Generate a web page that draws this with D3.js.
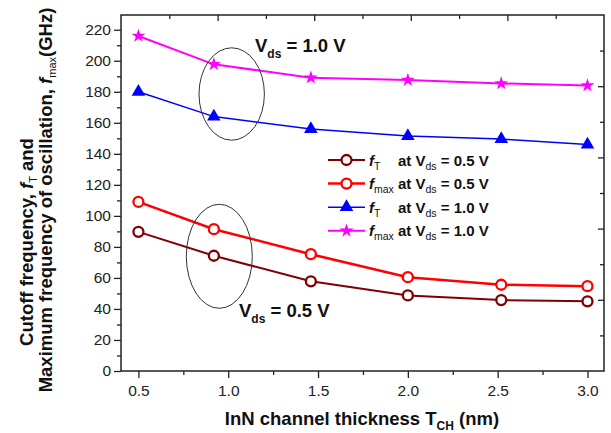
<!DOCTYPE html>
<html>
<head>
<meta charset="utf-8">
<script src="https://cdn.jsdelivr.net/npm/d3@7"></script>
<style>
  body { margin: 0; background: #fff; }
  text { font-family: "Liberation Sans", Arial, sans-serif; }
</style>
</head>
<body>
<script>
// data
const thickness = [0.5, 0.92, 1.46, 2.0, 2.52, 3.0];
const fT_05 = [89.7, 74.3, 57.8, 48.7, 45.7, 44.9];
const fmax_05 = [109.0, 91.4, 75.3, 60.5, 55.6, 54.7];
const fT_10 = [180.0, 164.0, 156.0, 151.5, 149.5, 146.0];
const fmax_10 = [216.0, 197.7, 189.1, 187.6, 185.4, 184.0];
const xTicks = [0.5, 1.0, 1.5, 2.0, 2.5, 3.0];
const xMinor = [0.75, 1.25, 1.75, 2.25, 2.75];
const yTicks = [0, 20, 40, 60, 80, 100, 120, 140, 160, 180, 200, 220];
const yMinor = [10, 30, 50, 70, 90, 110, 130, 150, 170, 190, 210];
const sideMajor = [1, 2, 3, 4];
const sideMinor = [0.5, 1.5, 2.5, 3.5, 4.5];

const series = [
  {name: "fT", sub: "T", vds: "0.5", values: fT_05, color: "#800000", sym: "circle", lw: 2},
  {name: "fmax", sub: "max", vds: "0.5", values: fmax_05, color: "#ff0000", sym: "circle", lw: 2.5},
  {name: "fT", sub: "T", vds: "1.0", values: fT_10, color: "#0000ff", sym: "triangle", lw: 1.5},
  {name: "fmax", sub: "max", vds: "1.0", values: fmax_10, color: "#ff00ff", sym: "star", lw: 2}
];

const W = 611, H = 433;
const L = 121, R = 604, T = 15, B = 371;

const svg = d3.select("body").append("svg")
  .attr("width", W).attr("height", H);

const x = d3.scaleLinear().domain([0.403, 3.092]).range([L, R]);
const y = d3.scaleLinear().domain([0, 229.5]).range([B, T]);
const xTop = d3.scaleLinear().domain([0, 5]).range([L, R]);
const yRight = d3.scaleLinear().domain([0, 5]).range([B, T]);

// axes
const axisColor = "#222";
function styleAxis(g) {
  g.select(".domain").remove();
  g.selectAll("line").attr("stroke", axisColor).attr("stroke-width", 1.3);
  g.selectAll("text").attr("fill", "#222").style("font-size", "15.5px");
}

svg.append("g").attr("transform", `translate(0,${B})`)
  .call(d3.axisBottom(x).tickValues(xTicks).tickSize(7).tickPadding(7).tickFormat(d3.format(".1f")))
  .call(styleAxis);
svg.append("g").attr("transform", `translate(0,${B})`)
  .call(d3.axisBottom(x).tickValues(xMinor).tickSize(4).tickFormat(""))
  .call(styleAxis);
svg.append("g").attr("transform", `translate(${L},0)`)
  .call(d3.axisLeft(y).tickValues(yTicks).tickSize(7).tickPadding(3))
  .call(styleAxis);
svg.append("g").attr("transform", `translate(${L},0)`)
  .call(d3.axisLeft(y).tickValues(yMinor).tickSize(4).tickFormat(""))
  .call(styleAxis);
svg.append("g").attr("transform", `translate(0,${T})`)
  .call(d3.axisTop(xTop).tickValues(sideMajor).tickSize(-6).tickFormat(""))
  .call(styleAxis);
svg.append("g").attr("transform", `translate(0,${T})`)
  .call(d3.axisTop(xTop).tickValues(sideMinor).tickSize(-4).tickFormat(""))
  .call(styleAxis);
svg.append("g").attr("transform", `translate(${R},0)`)
  .call(d3.axisRight(yRight).tickValues(sideMajor).tickSize(-6).tickFormat(""))
  .call(styleAxis);
svg.append("g").attr("transform", `translate(${R},0)`)
  .call(d3.axisRight(yRight).tickValues(sideMinor).tickSize(-4).tickFormat(""))
  .call(styleAxis);

svg.append("rect")
  .attr("x", L).attr("y", T).attr("width", R - L).attr("height", B - T)
  .attr("fill", "none").attr("stroke", axisColor).attr("stroke-width", 1.5);

// markers
const symSize = {circle: 0, triangle: 80, star: 60};
function drawMarker(g, s) {
  if (s.sym == "circle") {
    g.append("circle").attr("r", 5)
      .attr("fill", "#fff").attr("stroke", s.color).attr("stroke-width", 2.3);
  } else {
    let type = s.sym == "star" ? d3.symbolStar : d3.symbolTriangle;
    g.append("path").attr("d", d3.symbol().type(type).size(symSize[s.sym])())
      .attr("fill", s.color);
  }
}

const line = d3.line().x(d => x(d[0])).y(d => y(d[1]));

series.forEach(function(s) {
  let pts = thickness.map((t, i) => [t, s.values[i]]);
  svg.append("path").datum(pts)
    .attr("d", line)
    .attr("fill", "none")
    .attr("stroke", s.color)
    .attr("stroke-width", s.lw);
  pts.forEach(function(p) {
    let g = svg.append("g").attr("transform", `translate(${x(p[0])},${y(p[1])})`);
    drawMarker(g, s);
  });
});

// ellipses
svg.append("ellipse").attr("cx", 231.7).attr("cy", 94).attr("rx", 32.7).attr("ry", 46.2)
  .attr("fill", "none").attr("stroke", "#333").attr("stroke-width", 1);
svg.append("ellipse").attr("cx", 219.3).attr("cy", 256.3).attr("rx", 33).attr("ry", 52)
  .attr("fill", "none").attr("stroke", "#333").attr("stroke-width", 1);

// Vds labels
function vdsLabel(px, py, v) {
  let t = svg.append("text").attr("x", px).attr("y", py)
    .style("font-size", "18.5px").style("font-weight", "bold").attr("fill", "#111");
  t.append("tspan").text("V");
  t.append("tspan").attr("dy", 6).style("font-size", "12px").text("ds");
  t.append("tspan").attr("dy", -6).text(" = " + v + " V");
}
vdsLabel(255, 52, "1.0");
vdsLabel(239, 317, "0.5");

// legend
const legend = svg.append("g");
series.forEach(function(s, i) {
  let ly = 160 + i * 23.6;
  let g = legend.append("g").attr("transform", `translate(0,${ly})`);
  g.append("line").attr("x1", 328).attr("x2", 365).attr("y1", 0).attr("y2", 0)
    .attr("stroke", s.color).attr("stroke-width", s.lw);
  let m = g.append("g").attr("transform", "translate(346.5,0)");
  drawMarker(m, s);
  let t = g.append("text").attr("x", 369).attr("y", 5.5)
    .style("font-size", "15px").style("font-weight", "bold").attr("fill", "#111");
  t.append("tspan").style("font-style", "italic").text("f");
  t.append("tspan").attr("dy", 4).style("font-size", "10.5px").style("font-weight", "normal").text(s.sub);
  let at = g.append("text").attr("x", 398).attr("y", 5.5)
    .style("font-size", "15px").style("font-weight", "bold").attr("fill", "#111");
  at.append("tspan").text("at V");
  at.append("tspan").attr("dy", 4).style("font-size", "10.5px").style("font-weight", "normal").text("ds");
  at.append("tspan").attr("dy", -4).text(" = " + s.vds + " V");
});

// axis titles
let xt = svg.append("text").attr("x", 362).attr("y", 425).attr("text-anchor", "middle")
  .style("font-size", "18.5px").style("font-weight", "bold").attr("fill", "#111");
xt.append("tspan").text("InN channel thickness T");
xt.append("tspan").attr("dy", 5).style("font-size", "12px").text("CH");
xt.append("tspan").attr("dy", -5).text(" (nm)");

let yt1 = svg.append("text").attr("transform", "translate(33,242) rotate(-90)")
  .attr("text-anchor", "middle")
  .style("font-size", "18.5px").style("font-weight", "bold").attr("fill", "#111");
yt1.append("tspan").text("Cutoff frequency, ");
yt1.append("tspan").style("font-style", "italic").text("f");
yt1.append("tspan").attr("dy", 4).style("font-size", "11px").style("font-weight", "normal").text("T");
yt1.append("tspan").attr("dy", -4).text(" and");

let yt2 = svg.append("text").attr("transform", "translate(52,200) rotate(-90)")
  .attr("text-anchor", "middle")
  .style("font-size", "18.5px").style("font-weight", "bold").attr("fill", "#111");
yt2.append("tspan").text("Maximum frequency of oscillation, ");
yt2.append("tspan").style("font-style", "italic").text("f");
yt2.append("tspan").attr("dy", 4).style("font-size", "11px").style("font-weight", "normal").text("max");
yt2.append("tspan").attr("dy", -4).text("(GHz)");
</script>
</body>
</html>
